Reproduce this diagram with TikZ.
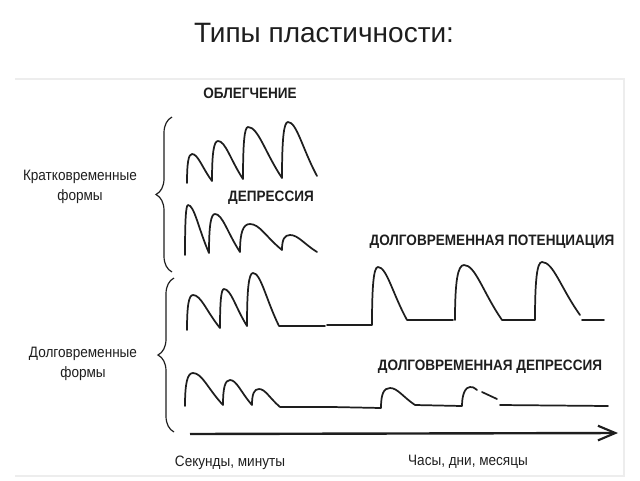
\documentclass[tikz,border=0pt]{standalone}
\usepackage{fontspec}
\setmainfont{Liberation Sans}
\newfontfamily\narrowfont[FakeStretch=0.9]{Liberation Sans}
\usetikzlibrary{arrows.meta,decorations.pathreplacing}
\definecolor{ink}{HTML}{1E1E1E}
\definecolor{frame}{HTML}{EDEDED}
% one pulse: start (x0,y0), peak (xp,yp), end (x1,y1), in pixel units, y downwards
\newcommand{\spike}[6]{(#1,-#2) .. controls (#1,{-(#2+0.7*(#4-#2))}) and ({#1+0.3*(#3-#1)},-#4) .. (#3,-#4) .. controls ({#3+0.3*(#5-#3)},-#4) and ({#3+0.5*(#5-#3)},{-(#4+0.5*(#6-#4))}) .. (#5,-#6)}
\tikzset{
  % ---- frame and title -------------------------------------------
  panel/.style    = {draw=frame, line width=.8pt},
  titletxt/.style = {font=\fontsize{21}{24}\selectfont, text=ink},
  % ---- traces ----------------------------------------------------
  wave/.style     = {draw=ink, line width=1.3pt, line cap=round, line join=round},
  axisline/.style = {draw=ink, line width=1.8pt,
                     -{Straight Barb[length=13pt,width=11pt,line width=1.6pt]}},
  brc/.style      = {draw=ink, line width=.9pt,
                     decorate, decoration={brace, amplitude=12pt}},
  % ---- labels ----------------------------------------------------
  sidelbl/.style  = {font=\narrowfont\fontsize{11.3}{15}\selectfont, text=ink,
                     align=center, inner sep=0pt},
  caplbl/.style   = {font=\narrowfont\bfseries\fontsize{11.3}{13}\selectfont,
                     text=ink, inner sep=0pt},
  timelbl/.style  = {font=\narrowfont\fontsize{11.3}{13}\selectfont, text=ink,
                     inner sep=0pt},
}
\begin{document}
\begin{tikzpicture}[x=.75pt, y=.75pt]
  \useasboundingbox (0,0) rectangle (640,-480);
  \draw[panel] (15,-79) -- (624,-79) -- (624,-476) -- (15,-476);
  \node[titletxt] (title) at (324,-33) {Типы пластичности:};

  % ---- braces and group names ------------------------------------
  \coordinate (sbot) at (172,-272);
  \coordinate (stop) at (172,-117);
  \coordinate (lbot) at (174,-432);
  \coordinate (ltop) at (174,-278);
  \draw[brc] (sbot) -- (stop);
  \draw[brc] (lbot) -- (ltop);
  \node[sidelbl] (shortlbl) at (80,-187) {Кратковременные\\формы};
  \node[sidelbl] (longlbl) at (83,-364) {Долговременные\\формы};

  % ---- short-term: facilitation ----------------------------------
  \node[caplbl] (facil) at (250,-93) {ОБЛЕГЧЕНИЕ};
  \draw[wave] \spike{187}{183}{192}{154}{212}{181}
              \spike{212}{181}{218}{141}{243}{179}
              \spike{243}{179}{248}{127}{282}{178}
              \spike{282}{178}{288}{122}{317}{176};

  % ---- short-term: depression ------------------------------------
  \node[caplbl] (depr) at (271,-198) {ДЕПРЕССИЯ};
  \draw[wave] \spike{185}{255}{188}{205}{209}{253}
              \spike{209}{253}{215}{214}{240}{252}
              \spike{240}{252}{250}{224}{282}{250}
              \spike{282}{250}{290}{235}{317}{252};

  % ---- long-term potentiation ------------------------------------
  \node[caplbl] (ltp) at (492,-242) {ДОЛГОВРЕМЕННАЯ ПОТЕНЦИАЦИЯ};
  \draw[wave] \spike{187}{330}{193}{295}{220}{328}
              \spike{220}{328}{224}{289}{247}{326}
              \spike{247}{326}{253}{273}{279}{326}
              (279,-326) -- (325,-326) (327,-325) -- (372,-325)
              \spike{372}{325}{378}{267}{407}{320}
              (407,-320) -- (453,-320)
              \spike{455}{320}{464}{265}{502}{320}
              (502,-320) -- (535,-320)
              \spike{535}{320}{542}{262}{580}{315}
              (582,-320) -- (604,-320);

  % ---- long-term depression --------------------------------------
  \node[caplbl] (ltd) at (490,-367) {ДОЛГОВРЕМЕННАЯ ДЕПРЕССИЯ};
  \draw[wave] \spike{185}{406}{193}{373}{223}{405}
              \spike{223}{405}{230}{380}{252}{405}
              \spike{252}{405}{259}{389}{280}{407}
              (280,-407) -- (332,-407) -- (381,-408)
              \spike{381}{408}{390}{388}{415}{405}
              (415,-405) -- (462,-406)
              (462,-406) .. controls (462,-393) and (466,-387) .. (470,-387)
                         .. controls (473,-387) .. (477,-390)
              (482,-392) -- (497,-399)
              (500,-405) -- (608,-406);

  % ---- time axis -------------------------------------------------
  \coordinate (ax0) at (190,-434);
  \coordinate (ax1) at (618,-433);
  \draw[axisline] (ax0) -- (ax1);
  \node[timelbl] (secs) at (230,-463) {Секунды, минуты};
  \node[timelbl] (hours) at (468,-462) {Часы, дни, месяцы};
\end{tikzpicture}
\end{document}
